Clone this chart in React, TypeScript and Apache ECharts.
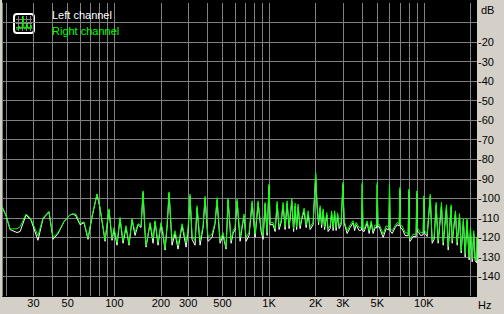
import React, { useEffect, useRef } from "react";
import * as echarts from "echarts";

// Frequencies (Hz) of the measured points, shared by both channels
const FREQ_HZ = [
  18.8, 20.0, 21.2, 23.5, 24.6, 26.9, 28.9, 32.1, 34.6, 37.8,
  40.2, 43.3, 47.3, 51.7, 54.1, 56.5, 60.0, 63.7, 67.6, 71.8,
  77.3, 80.8, 87.1, 92.4, 96.6, 99.5, 104.1, 108.8, 113.8, 119.0,
  124.5, 130.1, 136.1, 142.3, 148.8, 153.3, 157.9, 160.3, 170.2, 177.9,
  183.3, 191.6, 200.4, 206.4, 212.7, 219.1, 225.8, 236.0, 246.8, 258.0,
  274.0, 290.8, 299.5, 308.6, 317.9, 332.4, 342.4, 358.1, 374.5, 385.7,
  403.3, 428.0, 447.6, 461.2, 482.3, 504.3, 527.3, 543.3, 568.1, 585.2,
  603.0, 621.2, 649.5, 669.1, 689.3, 710.2, 742.6, 776.6, 812.0, 849.1,
  887.8, 914.6, 942.3, 970.7, 1000, 1015, 1061, 1094, 1127, 1160,
  1196, 1232, 1269, 1307, 1347, 1402, 1440, 1473, 1506, 1540,
  1586, 1634, 1684, 1735, 1787, 1841, 1925, 2000, 2044, 2089,
  2137, 2185, 2234, 2284, 2360, 2406, 2480, 2535, 2593, 2651,
  2711, 2772, 2835, 2920, 3000, 3053, 3193, 3339, 3491, 3570,
  3651, 3817, 3960, 4000, 4040, 4113, 4301, 4431, 4565, 4702,
  4843, 4950, 5000, 5050, 5141, 5458, 5707, 5940, 6000, 6060,
  6240, 6524, 6723, 6930, 7000, 7070, 7238, 7569, 7920, 8000,
  8080, 8152, 8523, 8910, 9000, 9090, 9186, 9535, 9900, 10000,
  10100, 10195, 10503, 11000, 11319, 11656, 12000, 12374, 13000, 13330,
  14000, 14361, 15000, 15241, 16000, 16420, 17000, 17425, 18000, 18493,
  19000, 19628, 20000, 20530, 21000, 21467, 21940, 22050,
];

// Right channel level (dB), green trace
const RIGHT_DB = [
  -104.3, -109, -115.6, -115.6, -114.6, -108, -110.5, -119.2, -110, -106.7,
  -120, -117.5, -111.9, -108.4, -108, -108, -113, -112, -120.2, -109,
  -97.7, -104.7, -121.2, -105.4, -120.7, -115, -122.6, -109.8, -121.7, -114,
  -123.3, -110.5, -117.5, -113, -114, -96.2, -116.6, -124.3, -112.4, -120.7,
  -111.5, -122.6, -112.4, -117.5, -125.8, -114, -96.7, -121.7, -116.6, -124.3,
  -113, -122.6, -115.6, -97.9, -119.2, -121.7, -103.8, -121.7, -114, -99,
  -120, -118.2, -112.4, -99.7, -121.7, -117.5, -125.2, -99.9, -121.7, -116.6,
  -115, -100.4, -120, -114, -108, -120, -117.5, -101.3, -118.3, -101.3,
  -115.8, -119.2, -102.1, -117.5, -92.7, -112.4, -112.4, -115.6, -101.6, -114.6,
  -111.5, -102.1, -114.6, -101.3, -114, -100, -115.6, -102.5, -114.6, -103,
  -114, -109, -105, -113.6, -106.4, -114.6, -112.3, -86.8, -103.8, -112.3,
  -103.8, -113.6, -105.4, -114.6, -107.3, -115.6, -114, -106.4, -115, -106.4,
  -115, -107.4, -114, -112.3, -91.9, -111.5, -116.6, -113.6, -111.5, -115,
  -112.3, -115, -115, -91.9, -115.5, -115.8, -111.5, -116.6, -111.5, -116.6,
  -113.6, -114, -91.9, -113.5, -113.2, -118.3, -114, -115, -92.7, -115.5,
  -116.6, -114, -112.4, -113, -94.5, -114, -114, -117.5, -118, -95.3,
  -120, -120.9, -118.3, -118.5, -96.2, -116, -115.6, -117.5, -117.5, -98.7,
  -116.6, -116.6, -118.2, -97.9, -121.7, -119.7, -102.1, -121.7, -102.1, -122.6,
  -103.3, -124.8, -103.3, -121.7, -106.4, -122.6, -107.8, -126.9, -110.5, -128.6,
  -110.5, -130.3, -115, -131.1, -116.6, -131, -132, -119.7,
];

// Left channel level (dB), white trace
const LEFT_DB = [
  -104.3, -109, -116, -117.5, -117, -108.5, -111, -121.5, -110.5, -107,
  -121, -118, -112, -108.5, -108, -109, -113.5, -112.5, -121, -109.5,
  -98, -105, -122, -106, -121.5, -116, -124, -110.5, -123, -115,
  -124, -111, -119, -113.5, -115, -97, -118, -125, -113, -123,
  -112, -124, -113, -119, -126.5, -115, -97.5, -124, -118, -126,
  -114, -125, -117, -99, -121, -124, -105, -124, -115, -100,
  -122, -120, -113, -101, -123, -119, -126, -101, -123, -118,
  -116, -101.5, -122, -115, -109, -122, -119, -102.5, -120, -102.5,
  -117, -121, -103, -119, -93.5, -113.5, -113.5, -117, -103, -116,
  -112.5, -103.5, -116, -102.5, -115.5, -101.5, -117, -104, -116, -104.5,
  -115.5, -110, -106.5, -115, -108, -116, -113.5, -88, -105, -113.5,
  -105, -115, -106.5, -116, -108.5, -117, -115.5, -107.5, -116.5, -107.5,
  -116.5, -108.5, -115.5, -113.5, -93, -112.5, -118, -115, -112.5, -116.5,
  -113.5, -116.5, -116.2, -93, -116.7, -117, -112.5, -118, -112.5, -118,
  -115, -115.2, -93, -114.7, -114.5, -120, -115.5, -116.2, -94, -116.7,
  -118, -115, -113.5, -114.2, -96, -115.2, -115.5, -119, -119.2, -96.5,
  -121.2, -122, -119.5, -119.7, -97.5, -117.2, -117, -119, -118.7, -100,
  -117.8, -118, -119.5, -99, -123, -121, -103.5, -123, -103.5, -124,
  -104.5, -126.5, -104.5, -123, -107.5, -124, -109, -128, -111.5, -130,
  -111.5, -131.5, -116, -132.5, -118, -132, -133, -120,
];

// Vertical grid lines and x tick labels (Hz)
const GRID_FREQS = [
  20, 30, 40, 50, 60, 70, 80, 90,
  100, 200, 300, 400, 500, 600, 700, 800, 900,
  1000, 2000, 3000, 4000, 5000, 6000, 7000, 8000, 9000,
  10000, 20000,
];
const LABEL_FREQS = [30, 50, 100, 200, 300, 500, 1000, 2000, 3000, 5000, 10000];
// y tick labels (dB)
const DB_LABELS = [-20, -30, -40, -50, -60, -70, -80, -90, -100, -110, -120, -130, -140];

const SERIES_NAMES = ["Left channel", "Right channel"];
const FONT = '"Liberation Sans", Arial, sans-serif';
const GRID_COLOR = "#808080";
const BG = "#d4d0c8";

export default function App() {
  const ref = useRef<HTMLDivElement>(null);

  useEffect(() => {
    if (!ref.current) return;
    const chart = echarts.init(ref.current, undefined, { renderer: "svg" });

    const rightData = FREQ_HZ.map((f, i) => [f, RIGHT_DB[i]]);
    const leftData = FREQ_HZ.map((f, i) => [f, LEFT_DB[i]]);

    const fmtHz = (v: number) => (v >= 1000 ? `${Math.round(v / 1000)}K` : `${Math.round(v)}`);

    chart.setOption({
      animation: false,
      backgroundColor: BG,
      textStyle: { fontFamily: FONT, fontSize: 11 },
      grid: { left: 2, right: 27, top: 3, bottom: 18 },
      legend: {
        orient: "vertical",
        left: 47,
        top: 7.5,
        padding: 0,
        itemGap: 2,
        itemWidth: 0,
        itemHeight: 14,
        icon: "none",
        selectedMode: false,
        textStyle: { fontFamily: FONT, fontSize: 11, lineHeight: 14 },
        data: [
          { name: SERIES_NAMES[0], textStyle: { color: "#ffffff" } },
          { name: SERIES_NAMES[1], textStyle: { color: "#00ff00" } },
        ],
      },
      xAxis: {
        type: "log",
        logBase: 10,
        min: 18.8,
        max: 22050,
        position: "bottom",
        axisLine: { show: false, onZero: false },
        axisTick: { show: false, customValues: GRID_FREQS },
        axisLabel: {
          customValues: LABEL_FREQS,
          formatter: (v: number) => fmtHz(v),
          color: "#000",
          fontFamily: FONT,
          fontSize: 11,
          margin: 1,
        },
        splitLine: { show: true, lineStyle: { color: GRID_COLOR, width: 1 } },
        name: "Hz",
        nameLocation: "end",
        nameGap: 1,
        nameTextStyle: {
          color: "#000",
          fontFamily: FONT,
          fontSize: 11,
          align: "left",
          verticalAlign: "top",
          padding: [3, 0, 0, 0],
        },
      },
      yAxis: [
        {
          type: "value",
          position: "right",
          min: -150,
          max: 0,
          interval: 10,
          axisLine: { show: false },
          axisTick: { show: false },
          axisLabel: {
            customValues: DB_LABELS,
            formatter: (v: number) => `${v}`,
            color: "#000",
            fontFamily: FONT,
            fontSize: 11,
            margin: 1,
          },
          splitLine: {
            show: true,
            showMinLine: false,
            showMaxLine: false,
            lineStyle: { color: GRID_COLOR, width: 1 },
          },
          name: "dB",
          nameLocation: "end",
          nameGap: -12,
          nameTextStyle: {
            color: "#000",
            fontFamily: FONT,
            fontSize: 11,
            align: "left",
            verticalAlign: "bottom",
            padding: [0, 0, 0, 4],
          },
        },
        {
          type: "value",
          position: "left",
          min: -150,
          max: 0,
          interval: 10,
          axisLine: { show: true, lineStyle: { color: GRID_COLOR, width: 1 } },
          axisTick: { show: false },
          axisLabel: { show: false },
          splitLine: { show: false },
        },
      ],
      series: [
        {
          name: SERIES_NAMES[0],
          type: "line",
          data: leftData,
          showSymbol: false,
          symbol: "none",
          lineStyle: { color: "#ffffff", width: 1 },
          itemStyle: { color: "#ffffff" },
          z: 2,
        },
        {
          name: SERIES_NAMES[1],
          type: "line",
          data: rightData,
          showSymbol: false,
          symbol: "none",
          lineStyle: { color: "#00ff00", width: 1 },
          itemStyle: { color: "#00ff00" },
          z: 3,
        },
      ],
      graphic: [
        {
          type: "rect",
          z: -10,
          silent: true,
          shape: { x: 2, y: 0, width: 475, height: 297 },
          style: { fill: "#000" },
        },
        {
          type: "group",
          x: 13,
          y: 13,
          z: 100,
          silent: true,
          children: [
            { type: "rect", shape: { x: 1, y: 1, width: 20, height: 19, r: 3 }, style: { fill: "#000", stroke: "#fff", lineWidth: 2 } },
            { type: "line", shape: { x1: 5.5, y1: 3, x2: 5.5, y2: 18 }, style: { stroke: GRID_COLOR, lineWidth: 1 } },
            { type: "line", shape: { x1: 9.5, y1: 3, x2: 9.5, y2: 18 }, style: { stroke: GRID_COLOR, lineWidth: 1 } },
            { type: "line", shape: { x1: 13.5, y1: 3, x2: 13.5, y2: 18 }, style: { stroke: GRID_COLOR, lineWidth: 1 } },
            { type: "line", shape: { x1: 17.5, y1: 3, x2: 17.5, y2: 18 }, style: { stroke: GRID_COLOR, lineWidth: 1 } },
            { type: "line", shape: { x1: 3, y1: 6.5, x2: 19, y2: 6.5 }, style: { stroke: GRID_COLOR, lineWidth: 1 } },
            { type: "line", shape: { x1: 3, y1: 10.5, x2: 19, y2: 10.5 }, style: { stroke: GRID_COLOR, lineWidth: 1 } },
            { type: "line", shape: { x1: 3, y1: 14.5, x2: 19, y2: 14.5 }, style: { stroke: GRID_COLOR, lineWidth: 1 } },
            {
              type: "polyline",
              shape: {
                points: [[3, 16], [5, 16], [6, 13], [7, 16], [9, 15], [10, 3], [11, 16], [13, 15], [14, 10], [15, 16], [17, 15], [18, 12], [19, 16]],
              },
              style: { stroke: "#00ff00", lineWidth: 1, fill: "none" },
            },
          ],
        },
      ],
    });

    return () => chart.dispose();
  }, []);

  return (
    <div
      ref={ref}
      style={{ position: "fixed", left: 0, top: 0, width: 504, height: 314, background: BG }}
    />
  );
}
